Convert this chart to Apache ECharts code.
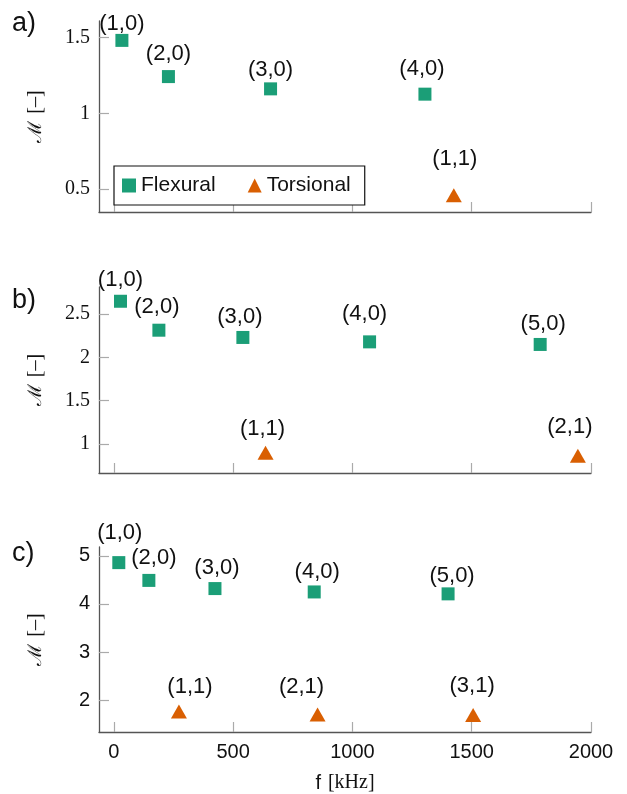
<!DOCTYPE html>
<html><head><meta charset="utf-8">
<script src="https://cdn.jsdelivr.net/npm/echarts@6/dist/echarts.min.js"></script>
<style>html,body{margin:0;padding:0;background:#fff}#c{width:627px;height:794px}</style>
</head><body><div id="c"></div>
<script>
// ---- data ----
const panelNames = ['a)', 'b)', 'c)'];
const seriesNames = ['Flexural', 'Torsional'];

// Panel a
const flexFreqA = [34, 229, 657, 1304];
const flexMA = [1.482, 1.243, 1.162, 1.127];
const flexModesA = ['(1,0)', '(2,0)', '(3,0)', '(4,0)'];
const torsFreqA = [1425];
const torsMA = [0.46];
const torsModesA = ['(1,1)'];

// Panel b
const flexFreqB = [28, 189, 541, 1072, 1787];
const flexMB = [2.65, 2.315, 2.231, 2.18, 2.15];
const flexModesB = ['(1,0)', '(2,0)', '(3,0)', '(4,0)', '(5,0)'];
const torsFreqB = [636, 1945];
const torsMB = [0.896, 0.861];
const torsModesB = ['(1,1)', '(2,1)'];

// Panel c
const flexFreqC = [21, 147, 424, 840, 1401];
const flexMC = [4.86, 4.49, 4.32, 4.25, 4.21];
const flexModesC = ['(1,0)', '(2,0)', '(3,0)', '(4,0)', '(5,0)'];
const torsFreqC = [273, 854, 1506];
const torsMC = [1.76, 1.70, 1.69];
const torsModesC = ['(1,1)', '(2,1)', '(3,1)'];

// ticks
const xTicks = [0, 500, 1000, 1500, 2000];
const yTicksA = [0.5, 1, 1.5];
const yTicksB = [1, 1.5, 2, 2.5];
const yTicksC = [2, 3, 4, 5];

// ---- styling ----
const SANS = 'Liberation Sans';
const SERIF = 'Liberation Serif';
const GREEN = '#1b9e77';
const ORANGE = '#d95f02';
const xRange = [-62, 2000];
const yRanges = [[0.349, 1.61], [0.662, 2.815], [1.336, 5.185]];
const grids = [
  {left: 99, width: 492, top: 21, height: 191},
  {left: 99, width: 492, top: 287, height: 186},
  {left: 99, width: 492, top: 547, height: 187}
];
// label nudges in pixels (style only)
const nudgeFlex = [
  [[0,-16],[0,-23],[0,-19],[-3,-25]],
  [[0,-21],[-2,-23],[-3,-21],[-5,-28],[3,-21]],
  [[1,-30],[5,-22],[2,-21],[3,-20],[4,-18]]
];
const nudgeTors = [
  [[1,-36]],
  [[-3,-24],[-8,-29]],
  [[11,-25],[-16,-28],[-1,-29]]
];

const panels = [
  {ff: flexFreqA, fm: flexMA, fl: flexModesA, tf: torsFreqA, tm: torsMA, tl: torsModesA, yt: yTicksA},
  {ff: flexFreqB, fm: flexMB, fl: flexModesB, tf: torsFreqB, tm: torsMB, tl: torsModesB, yt: yTicksB},
  {ff: flexFreqC, fm: flexMC, fl: flexModesC, tf: torsFreqC, tm: torsMC, tl: torsModesC, yt: yTicksC}
];

const xAxes = [], yAxes = [], series = [], titles = [];
const titleTops = [10, 287, 540];

panels.forEach((p, i) => {
  const last = i === 2;
  xAxes.push({
    type: 'value', gridIndex: i, min: xRange[0], max: xRange[1],
    splitLine: {show: false},
    axisLine: {show: true, onZero: false, lineStyle: {color: '#555', width: 1.3}},
    axisTick: {show: true, inside: true, length: 10, customValues: xTicks, lineStyle: {color: '#aaa', width: 1.2}},
    axisLabel: {show: last, customValues: xTicks, margin: 10, color: '#111', fontFamily: SANS, fontSize: 20,
      formatter: v => String(v)},
    name: last ? '{f|f}{sp| }{u|[kHz]}' : '',
    nameLocation: 'middle', nameGap: 41,
    nameTextStyle: {rich: {
      f: {fontFamily: SANS, fontSize: 20, color: '#111'},
      sp: {fontFamily: SERIF, fontSize: 20, width: 7},
      u: {fontFamily: SERIF, fontSize: 20, color: '#111'}
    }}
  });
  yAxes.push({
    type: 'value', gridIndex: i, min: yRanges[i][0], max: yRanges[i][1],
    splitLine: {show: false},
    axisLine: {show: true, onZero: false, lineStyle: {color: '#555', width: 1.3}},
    axisTick: {show: true, inside: true, length: 10, customValues: p.yt, lineStyle: {color: '#aaa', width: 1.2}},
    axisLabel: {customValues: p.yt, margin: 9, color: '#111', fontFamily: last ? SANS : SERIF, fontSize: 20,
      formatter: v => String(v)},
    name: '{m|ℳ}{sp| }{u|[–]}',
    nameLocation: 'middle', nameGap: 53,
    nameTextStyle: {rich: {
      m: {fontFamily: 'DejaVu Serif', fontSize: 19, color: '#111'},
      sp: {fontFamily: SERIF, fontSize: 20, width: 7},
      u: {fontFamily: SERIF, fontSize: 20, color: '#111'}
    }}
  });
  const mk = (fr, mv, modes, nudge) => fr.map((f, k) => ({
    value: [f, mv[k]], mode: modes[k],
    label: {offset: nudge[k]}
  }));
  const lab = {
    show: true, position: 'inside', color: '#111', fontFamily: SANS, fontSize: 22,
    formatter: prm => prm.data.mode
  };
  series.push({
    name: seriesNames[0], type: 'scatter', xAxisIndex: i, yAxisIndex: i,
    symbol: 'rect', symbolSize: 13, itemStyle: {color: GREEN, opacity: 1},
    label: lab, data: mk(p.ff, p.fm, p.fl, nudgeFlex[i])
  });
  series.push({
    name: seriesNames[1], type: 'scatter', xAxisIndex: i, yAxisIndex: i,
    symbol: 'triangle', symbolSize: [16, 14], itemStyle: {color: ORANGE, opacity: 1},
    label: lab, data: mk(p.tf, p.tm, p.tl, nudgeTors[i])
  });
  titles.push({
    text: panelNames[i], left: 12, top: titleTops[i], padding: 0,
    textStyle: {fontFamily: SANS, fontSize: 27, fontWeight: 'normal', color: '#111'}
  });
});

const chart = echarts.init(document.getElementById('c'), null, {renderer: 'canvas'});
chart.setOption({
  animation: false,
  backgroundColor: '#fff',
  title: titles,
  grid: grids,
  xAxis: xAxes,
  yAxis: yAxes,
  legend: {
    data: [{name: 'Flexural', icon: 'rect'}, {name: 'Torsional', icon: 'triangle'}],
    left: 114, top: 166, orient: 'horizontal',
    backgroundColor: '#fff', borderColor: '#111', borderWidth: 1.2,
    padding: [9, 14, 9, 8], itemGap: 32, itemWidth: 14, itemHeight: 14,
    selectedMode: false,
    textStyle: {fontFamily: SANS, fontSize: 21, color: '#111'}
  },
  series: series
});
</script>
</body></html>
